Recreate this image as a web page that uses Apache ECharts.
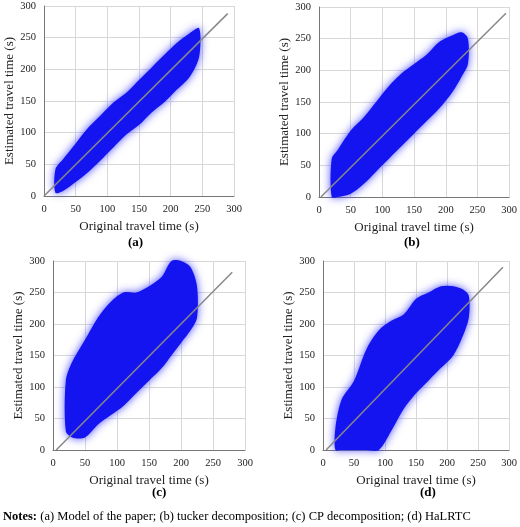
<!DOCTYPE html><html><head><meta charset="utf-8">
<script src="https://cdn.jsdelivr.net/npm/echarts@6/dist/echarts.min.js"></script>
<style>html,body{margin:0;background:#fff}#c{width:520px;height:527px}</style></head><body><div id="c"></div>
<script>
const panelNames=['(a)','(b)','(c)','(d)'];
const xTicks=[0,50,100,150,200,250,300];
const bandX=[[18,30,50,70,90,110,130,150,170,190,210,230,245],[20,30,50,70,90,110,130,150,170,190,210,225,235],[20,30,50,70,90,110,130,150,170,185,200,215,225],[20,30,50,70,90,110,130,150,170,190,210,225,235]];
const bandLow=[[5,8,22,38,57,77,97,112,132,148,168,188,220],[0,0,5,20,40,60,80,100,120,140,165,190,210],[30,20,20,40,55,70,90,110,130,150,170,190,210],[0,0,0,0,0,30,65,90,110,130,150,180,210]];
const bandHigh=[[42,58,83,108,128,148,163,183,203,223,242,257,265],[60,75,105,125,150,175,195,210,225,245,255,260,250],[110,140,175,210,235,250,250,260,275,300,300,290,260],[35,80,110,160,190,205,215,240,250,260,260,255,245]];
const diag=[[[0,0],[290,288]],[[3,0],[295,290]],[[5,0],[280,282]],[[5,0],[290,290]]];
const notes='(a) Model of the paper; (b) tucker decomposition; (c) CP decomposition; (d) HaLRTC';
const F='Liberation Serif';
const grids=[{left:44,top:6,width:190,height:190},{left:319,top:7,width:191,height:190},{left:53,top:261,width:192,height:189},{left:323,top:261,width:188,height:189}];
const xA=[],yA=[],series=[];
grids.forEach((g,i)=>{
 xA.push({gridIndex:i,min:0,max:300,interval:50,name:'Original travel time (s)',nameLocation:'middle',nameGap:24,nameTextStyle:{fontFamily:F,fontSize:13,color:'#222'},axisLine:{lineStyle:{color:'#777'}},axisTick:{show:false},axisLabel:{fontFamily:F,fontSize:10.5,color:'#222'},splitLine:{lineStyle:{color:'#d8d8d8'}}});
 yA.push({gridIndex:i,min:0,max:300,interval:50,name:'Estimated travel time (s)',nameLocation:'middle',nameGap:28,nameTextStyle:{fontFamily:F,fontSize:13,color:'#222'},axisLine:{show:true,lineStyle:{color:'#777'}},axisTick:{show:false},axisLabel:{fontFamily:F,fontSize:10.5,color:'#222'},splitLine:{lineStyle:{color:'#d8d8d8'}}});
 series.push({type:'custom',xAxisIndex:i,yAxisIndex:i,data:[0],renderItem:(p,api)=>{
   const pts=[];
   bandX[i].forEach((x,k)=>pts.push(api.coord([x,bandLow[i][k]])));
   for(let k=bandX[i].length-1;k>=0;k--)pts.push(api.coord([bandX[i][k],bandHigh[i][k]]));
   return {type:'polygon',shape:{points:pts,smooth:0.3},style:{fill:'#1414f0',shadowBlur:8,shadowColor:'rgba(60,60,255,0.9)'}};
 },z:2,silent:true});
 series.push({type:'line',xAxisIndex:i,yAxisIndex:i,data:diag[i],symbol:'none',lineStyle:{color:'#888',width:1.5},z:3,silent:true});
});
const gr=[
 {type:'text',left:128,top:236,style:{text:panelNames[0],font:'bold 13px "Liberation Serif"'}},
 {type:'text',left:404,top:236,style:{text:panelNames[1],font:'bold 13px "Liberation Serif"'}},
 {type:'text',left:152,top:486,style:{text:panelNames[2],font:'bold 13px "Liberation Serif"'}},
 {type:'text',left:420,top:486,style:{text:panelNames[3],font:'bold 13px "Liberation Serif"'}},
 {type:'text',left:3,top:510,style:{rich:{b:{font:'bold 12.5px "Liberation Serif"'},n:{font:'12.5px "Liberation Serif"'}},text:'{b|Notes:} {n|'+notes+'}'}}
];
const ch=echarts.init(document.getElementById('c'));
ch.setOption({animation:false,grid:grids,xAxis:xA,yAxis:yA,series,graphic:gr});
</script></body></html>
